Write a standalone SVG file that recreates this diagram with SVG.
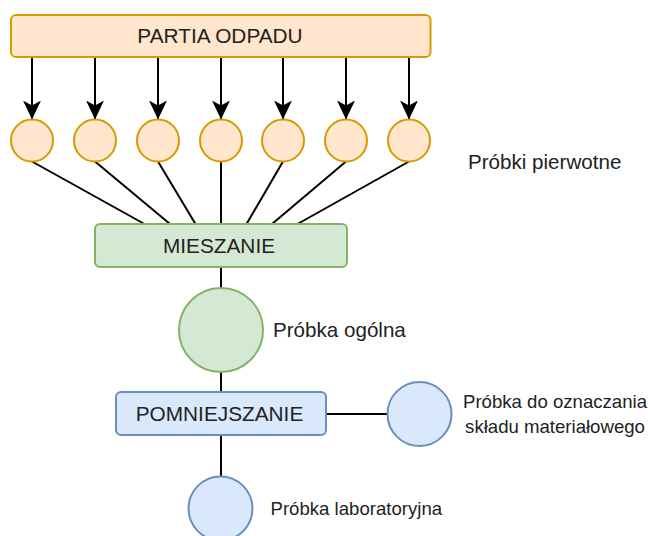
<svg xmlns="http://www.w3.org/2000/svg" width="648" height="536" viewBox="0 0 648 536">
  <style>
    text { font-family: "Liberation Sans", Arial, Helvetica, sans-serif; font-size: 20.8px; fill: #222222; }
    .mid { text-anchor: middle; }
    .lbl { font-size: 20.6px; }
    .sm { font-size: 18.6px; }
    .orange { fill: #ffe6cc; stroke: #d79b00; stroke-width: 2; }
    .green { fill: #d5e8d4; stroke: #82b366; stroke-width: 2; }
    .blue { fill: #dae8fc; stroke: #6c8ebf; stroke-width: 2; }
    .edge { stroke: #000000; stroke-width: 2; fill: none; }
  </style>
  <defs>
    <marker id="arrow" viewBox="0 0 19 18" refX="18.5" refY="9" markerWidth="19" markerHeight="18" markerUnits="userSpaceOnUse" orient="auto">
      <path d="M0,0 L19,9 L0,18 L5,9 Z" fill="#000000"/>
    </marker>
  </defs>

  <g id="connectors">
    <line class="edge" x1="32" y1="57" x2="32" y2="119" marker-end="url(#arrow)"/>
    <line class="edge" x1="95" y1="57" x2="95" y2="119" marker-end="url(#arrow)"/>
    <line class="edge" x1="158" y1="57" x2="158" y2="119" marker-end="url(#arrow)"/>
    <line class="edge" x1="221" y1="57" x2="221" y2="119" marker-end="url(#arrow)"/>
    <line class="edge" x1="283" y1="57" x2="283" y2="119" marker-end="url(#arrow)"/>
    <line class="edge" x1="346" y1="57" x2="346" y2="119" marker-end="url(#arrow)"/>
    <line class="edge" x1="409" y1="57" x2="409" y2="119" marker-end="url(#arrow)"/>

    <line class="edge" x1="32" y1="161.5" x2="144.5" y2="224"/>
    <line class="edge" x1="95" y1="161.5" x2="170" y2="224"/>
    <line class="edge" x1="158" y1="161.5" x2="195.5" y2="224"/>
    <line class="edge" x1="221" y1="161.5" x2="221" y2="224"/>
    <line class="edge" x1="283" y1="161.5" x2="246.5" y2="224"/>
    <line class="edge" x1="346" y1="161.5" x2="272" y2="224"/>
    <line class="edge" x1="409" y1="161.5" x2="297.5" y2="224"/>

    <line class="edge" x1="221" y1="267" x2="221" y2="288"/>
    <line class="edge" x1="221" y1="372" x2="221" y2="392"/>
    <line class="edge" x1="221" y1="435" x2="221" y2="476.5"/>
    <line class="edge" x1="326" y1="414" x2="387.5" y2="414"/>
  </g>

  <g id="partia-odpadu">
    <rect class="orange" x="11" y="15" width="419.5" height="42" rx="5"/>
    <text class="mid" x="220" y="43">PARTIA ODPADU</text>
  </g>

  <g id="probka-1"><circle class="orange" cx="32" cy="140.5" r="21"/></g>
  <g id="probka-2"><circle class="orange" cx="95" cy="140.5" r="21"/></g>
  <g id="probka-3"><circle class="orange" cx="158" cy="140.5" r="21"/></g>
  <g id="probka-4"><circle class="orange" cx="221" cy="140.5" r="21"/></g>
  <g id="probka-5"><circle class="orange" cx="283" cy="140.5" r="21"/></g>
  <g id="probka-6"><circle class="orange" cx="346" cy="140.5" r="21"/></g>
  <g id="probka-7"><circle class="orange" cx="409" cy="140.5" r="21"/></g>

  <g id="label-pierwotne">
    <text class="lbl" x="468" y="169">Próbki pierwotne</text>
  </g>

  <g id="mieszanie">
    <rect class="green" x="95" y="224" width="252" height="43" rx="5"/>
    <text class="mid" x="219" y="253">MIESZANIE</text>
  </g>

  <g id="probka-ogolna">
    <circle class="green" cx="221" cy="330" r="42"/>
    <text class="lbl" x="273" y="337">Próbka ogólna</text>
  </g>

  <g id="pomniejszanie">
    <rect class="blue" x="116" y="392" width="210" height="43" rx="5"/>
    <text class="mid" x="219.5" y="421">POMNIEJSZANIE</text>
  </g>

  <g id="probka-skladu">
    <circle class="blue" cx="419.5" cy="414" r="32"/>
    <text class="mid sm" x="555" y="408">Próbka do oznaczania</text>
    <text class="mid sm" x="555" y="433">składu materiałowego</text>
  </g>

  <g id="probka-laboratoryjna">
    <circle class="blue" cx="220.5" cy="508.5" r="32"/>
    <text class="sm" x="270.5" y="515">Próbka laboratoryjna</text>
  </g>
</svg>
